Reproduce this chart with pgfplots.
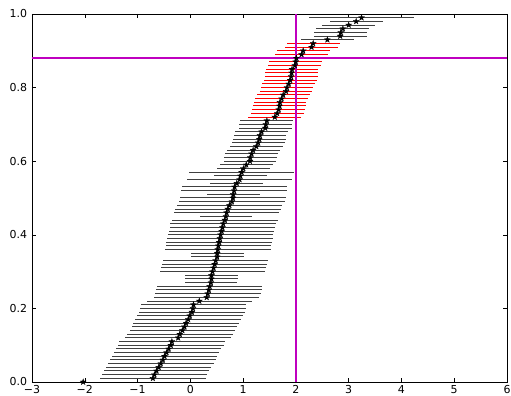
\documentclass[border=0pt]{standalone}
\usepackage{fontspec}
\setmainfont{DejaVu Sans}
\usepackage{pgfplots}
\usepackage{pgfplotstable}
\pgfplotsset{compat=1.18}
\definecolor{mpm}{rgb}{0.75,0,0.75}
\pgfdeclareplotmark{fstar}{%
  \pgfpathmoveto{\pgfpointpolar{90}{\pgfplotmarksize}}%
  \pgfpathlineto{\pgfpointpolar{126}{0.4\pgfplotmarksize}}%
  \pgfpathlineto{\pgfpointpolar{162}{\pgfplotmarksize}}%
  \pgfpathlineto{\pgfpointpolar{198}{0.4\pgfplotmarksize}}%
  \pgfpathlineto{\pgfpointpolar{234}{\pgfplotmarksize}}%
  \pgfpathlineto{\pgfpointpolar{270}{0.4\pgfplotmarksize}}%
  \pgfpathlineto{\pgfpointpolar{306}{\pgfplotmarksize}}%
  \pgfpathlineto{\pgfpointpolar{342}{0.4\pgfplotmarksize}}%
  \pgfpathlineto{\pgfpointpolar{18}{\pgfplotmarksize}}%
  \pgfpathlineto{\pgfpointpolar{54}{0.4\pgfplotmarksize}}%
  \pgfpathclose
  \pgfusepathqfillstroke
}
\pgfplotstableread{
y x e
0.00 -2.03 1.0
0.01 -0.71 1.0
0.02 -0.68 1.0
0.03 -0.64 1.0
0.04 -0.60 1.0
0.05 -0.56 1.0
0.06 -0.52 1.0
0.07 -0.49 1.0
0.08 -0.45 1.0
0.09 -0.41 1.0
0.10 -0.37 1.0
0.11 -0.35 1.0
0.12 -0.23 1.0
0.13 -0.20 1.0
0.14 -0.15 1.0
0.15 -0.11 1.0
0.16 -0.08 1.0
0.17 -0.04 1.0
0.18 -0.01 1.0
0.19 0.03 1.0
0.20 0.05 1.0
0.21 0.06 1.0
0.22 0.17 1.0
0.23 0.31 1.0
0.24 0.33 1.0
0.25 0.35 1.0
0.26 0.365 1.0
0.27 0.39 0.5
0.28 0.40 0.5
0.29 0.40 0.5
0.30 0.42 1.0
0.31 0.44 1.0
0.32 0.46 1.0
0.33 0.48 1.0
0.34 0.51 0.5
0.35 0.51 0.5
0.36 0.52 1.0
0.37 0.53 1.0
0.38 0.545 1.0
0.39 0.56 1.0
0.40 0.573 1.0
0.41 0.592 1.0
0.42 0.608 1.0
0.43 0.624 1.0
0.44 0.655 1.0
0.45 0.674 0.5
0.46 0.687 1.0
0.47 0.709 1.0
0.48 0.741 1.0
0.49 0.788 1.0
0.50 0.807 1.0
0.51 0.813 0.5
0.52 0.829 1.0
0.53 0.838 1.0
0.54 0.88 0.5
0.55 0.933 1.0
0.56 0.949 0.5
0.57 0.971 1.0
0.58 1.006 0.5
0.59 1.06 0.5
0.60 1.13 0.5
0.61 1.136 0.5
0.62 1.16 0.5
0.63 1.19 0.5
0.64 1.25 0.5
0.65 1.287 0.5
0.66 1.306 0.5
0.67 1.318 0.5
0.68 1.35 0.5
0.69 1.42 0.5
0.70 1.43 0.5
0.71 1.45 0.5
0.93 2.597 0.5
0.94 2.84 0.5
0.95 2.85 0.5
0.96 2.89 0.5
0.97 3.00 0.5
0.98 3.142 0.5
0.99 3.244 1.0
}\blackdata
\pgfplotstableread{
y x e
0.72 1.60 0.5
0.73 1.646 0.5
0.74 1.675 0.5
0.75 1.69 0.5
0.76 1.697 0.5
0.77 1.73 0.5
0.78 1.76 0.5
0.79 1.814 0.5
0.80 1.83 0.5
0.81 1.865 0.5
0.82 1.893 0.5
0.83 1.91 0.5
0.84 1.918 0.5
0.85 1.927 0.5
0.86 1.98 0.5
0.87 1.997 0.5
0.88 2.01 0.5
0.89 2.107 0.5
0.90 2.139 0.5
0.91 2.296 0.5
0.92 2.328 0.5
}\reddata
\begin{document}
\begin{tikzpicture}
\path[use as bounding box] (-32bp,-14bp) rectangle (479bp,382bp);
\begin{axis}[
  at={(0,0)}, anchor=south west,
  scale only axis, width=475bp, height=368bp,
  xmin=-3, xmax=6, ymin=0, ymax=1,
  xtick={-3,-2,-1,0,1,2,3,4,5,6},
  xticklabels={−3,−2,−1,0,1,2,3,4,5,6},
  ytick={0,0.2,0.4,0.6,0.8,1.0},
  yticklabels={0.0,0.2,0.4,0.6,0.8,1.0},
  tick align=inside, major tick length=4bp,
  tick style={black, line width=0.5bp},
  axis line style={black, line width=0.8bp},
  ticklabel style={font=\fontsize{11}{13}\selectfont},
  xticklabel style={yshift=0bp},
  yticklabel style={xshift=-1.5bp},
  clip=true,
]
\addplot[only marks, mark=fstar, mark size=3.2bp,
  mark options={fill=black, draw=black, line width=0.2bp},
  error bars/.cd, x dir=both, x explicit, error mark=none,
  error bar style={line width=1bp, black!75}]
  table[x=x, y=y, x error=e] {\blackdata};
\addplot[only marks, mark=fstar, mark size=3.2bp,
  mark options={fill=black, draw=black, line width=0.2bp},
  error bars/.cd, x dir=both, x explicit, error mark=none,
  error bar style={line width=1bp, red}]
  table[x=x, y=y, x error=e] {\reddata};
\addplot[mpm, line width=1.8bp] coordinates {(2,0) (2,1)};
\addplot[mpm, line width=1.8bp] coordinates {(-3,0.88) (6,0.88)};
\end{axis}
\end{tikzpicture}
\end{document}
